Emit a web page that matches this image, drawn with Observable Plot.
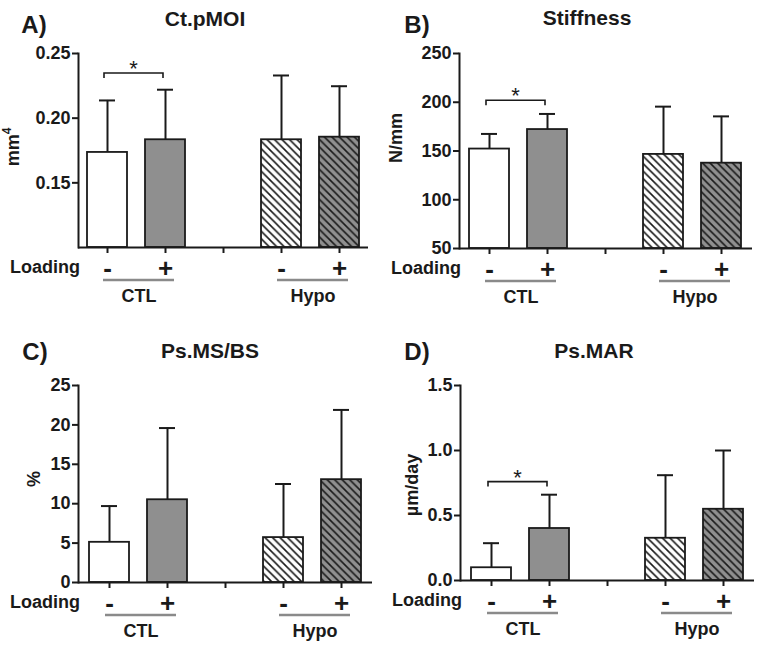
<!DOCTYPE html>
<html><head><meta charset="utf-8">
<script src="https://cdn.jsdelivr.net/npm/d3@7"></script>
<script src="https://cdn.jsdelivr.net/npm/@observablehq/plot@0.6"></script>
<style>
body{margin:0;background:#fff;}
#wrap{position:relative;width:764px;height:650px;font-family:"Liberation Sans",Arial,sans-serif;}
#wrap svg.plotpanel{position:absolute;overflow:visible;}
</style></head><body>
<svg width="0" height="0" style="position:absolute">
  <defs>
    <pattern id="hatchWhite" patternUnits="userSpaceOnUse" width="7.5" height="7.5">
      <rect width="7.5" height="7.5" fill="#ffffff"/>
      <path d="M0,0L7.5,7.5M-1.5,6L1.5,9M6,-1.5L9,1.5" stroke="#1a1a1a" stroke-width="1.6"/>
    </pattern>
    <pattern id="hatchGray" patternUnits="userSpaceOnUse" width="7.5" height="7.5">
      <rect width="7.5" height="7.5" fill="#8f8f8f"/>
      <path d="M0,0L7.5,7.5M-1.5,6L1.5,9M6,-1.5L9,1.5" stroke="#1a1a1a" stroke-width="1.6"/>
    </pattern>
  </defs>
</svg>
<div id="wrap"></div>
<script>
// ---- data ----
const categories = ["CTL-", "CTL+", "gap", "Hypo-", "Hypo+"];
const barKeys = ["CTL-", "CTL+", "Hypo-", "Hypo+"];
const tickLabels = ["-", "+", "", "-", "+"];
const groupNames = ["CTL", "Hypo"];
const groupMembers = [["CTL-", "CTL+"], ["Hypo-", "Hypo+"]];

const pmoiMean = [0.1735, 0.1833, 0.1833, 0.1853];
const pmoiUpper = [0.2137, 0.2220, 0.2330, 0.2247];
const stiffMean = [152, 172, 146.5, 137.5];
const stiffUpper = [167.5, 188, 195.5, 185.5];
const msbsMean = [5.1, 10.5, 5.7, 13.05];
const msbsUpper = [9.7, 19.6, 12.5, 21.9];
const marMean = [0.098, 0.40, 0.325, 0.548];
const marUpper = [0.287, 0.66, 0.81, 1.0];

const panelLetters = ["A)", "B)", "C)", "D)"];
const panelTitles = ["Ct.pMOI", "Stiffness", "Ps.MS/BS", "Ps.MAR"];
const yTicksA = [0.15, 0.20, 0.25];
const yTicksB = [50, 100, 150, 200, 250];
const yTicksC = [0, 5, 10, 15, 20, 25];
const yTicksD = [0.0, 0.5, 1.0, 1.5];
const sigLevels = [0.2345, 201.5, null, 0.757];
const loadingLabel = "Loading";

// ---- styles ----
const FONT = '"Liberation Sans", Arial, sans-serif';
const INK = "#1a1a1a";
const fillOf = {"CTL-": "#ffffff", "CTL+": "#8f8f8f", "Hypo-": "url(#hatchWhite)", "Hypo+": "url(#hatchGray)"};
const tickLabelOf = Object.fromEntries(categories.map((c, i) => [c, tickLabels[i]]));

const panels = [
  {mean: pmoiMean, upper: pmoiUpper, domain: [0.10, 0.25], ticks: yTicksA, fmt: d3.format(".2f"),
   ylabel: ["mm", "4"], left: 0, top: 0, ml: 78, mr: 14, mt: 53, mb: 78,
   title: [205, 26], letter: [34, 33], yl: [19, 147]},
  {mean: stiffMean, upper: stiffUpper, domain: [50, 250], ticks: yTicksB, fmt: d3.format("d"),
   ylabel: ["N/mm"], left: 382, top: 0, ml: 77, mr: 12, mt: 53, mb: 77,
   title: [205, 25], letter: [35, 33], yl: [20, 138]},
  {mean: msbsMean, upper: msbsUpper, domain: [0, 25], ticks: yTicksC, fmt: d3.format("d"),
   ylabel: ["%"], left: 0, top: 325, ml: 78, mr: 10, mt: 60, mb: 68,
   title: [210, 33], letter: [35, 35], yl: [40, 154]},
  {mean: marMean, upper: marUpper, domain: [0, 1.5], ticks: yTicksD, fmt: d3.format(".1f"),
   ylabel: ["\u00b5m/day"], left: 382, top: 325, ml: 78, mr: 10, mt: 60, mb: 70,
   title: [212, 33], letter: [35, 35], yl: [36, 160]}
];

const wrap = document.getElementById("wrap");

panels.forEach((cfg, pi) => {
  const data = barKeys.map((k, i) => ({key: k, mean: cfg.mean[i], upper: cfg.upper[i]}));
  const y0 = cfg.domain[0];
  const H = 325, W = 382;
  const chart = Plot.plot({
    width: W, height: H,
    marginTop: cfg.mt, marginBottom: cfg.mb, marginLeft: cfg.ml, marginRight: cfg.mr,
    style: {fontFamily: FONT, color: INK, background: "transparent", overflow: "visible"},
    x: {type: "band", domain: categories, paddingInner: 0.31, paddingOuter: 0.155, label: null},
    y: {domain: cfg.domain, label: null},
    color: {type: "identity"},
    marks: [
      Plot.ruleX(data, {x: "key", y1: "mean", y2: "upper", stroke: INK, strokeWidth: 2}),
      Plot.tickY(data, {x: "key", y: "upper", stroke: INK, strokeWidth: 2, insetLeft: 12, insetRight: 12}),
      Plot.barY(data, {x: "key", y1: y0, y2: "mean", fill: d => fillOf[d.key], stroke: INK, strokeWidth: 1.8}),
      Plot.ruleY([y0], {stroke: INK, strokeWidth: 2}),
      Plot.frame({anchor: "left", stroke: INK, strokeWidth: 2}),
      Plot.axisY({ticks: cfg.ticks, tickFormat: cfg.fmt, tickSize: 6, tickPadding: 2,
                  fontSize: 18, fontWeight: "bold", label: null, stroke: INK, strokeWidth: 2, fill: INK}),
      Plot.axisX({tickSize: 6, tickPadding: 5.5, tickFormat: k => tickLabelOf[k],
                  fontSize: 26, fontWeight: "bold", label: null, stroke: INK, strokeWidth: 2, fill: INK})
    ]
  });
  chart.classList.add("plotpanel");
  chart.style.left = cfg.left + "px";
  chart.style.top = cfg.top + "px";
  wrap.appendChild(chart);

  const sx = chart.scale("x"), sy = chart.scale("y");
  const cx = k => sx.apply(k) + sx.bandwidth / 2;
  const fb = H - cfg.mb;  // frame bottom
  const svg = d3.select(chart);
  const g = svg.append("g").attr("font-family", FONT).attr("font-weight", "bold").attr("fill", INK);

  g.append("text").attr("x", cfg.letter[0]).attr("y", cfg.letter[1]).attr("font-size", 24).text(panelLetters[pi]);
  g.append("text").attr("x", cfg.title[0]).attr("y", cfg.title[1]).attr("font-size", 21)
    .attr("text-anchor", "middle").text(panelTitles[pi]);

  const yt = g.append("text").attr("transform", `translate(${cfg.yl[0]},${cfg.yl[1]}) rotate(-90)`)
    .attr("text-anchor", "middle").attr("font-size", 18);
  yt.append("tspan").text(cfg.ylabel[0]);
  if (cfg.ylabel[1]) yt.append("tspan").attr("font-size", 12).attr("dy", -8).text(cfg.ylabel[1]);

  g.append("text").attr("x", cfg.ml + 2).attr("y", fb + 26).attr("font-size", 18)
    .attr("text-anchor", "end").text(loadingLabel);

  groupMembers.forEach((m, gi) => {
    const a = cx(m[0]), b = cx(m[1]);
    svg.append("line").attr("x1", a - 4).attr("x2", b + 9).attr("y1", fb + 33).attr("y2", fb + 33)
      .attr("stroke", "#8a8a8a").attr("stroke-width", 2.7);
    g.append("text").attr("x", (a + b) / 2 + 3).attr("y", fb + 55).attr("font-size", 18)
      .attr("text-anchor", "middle").text(groupNames[gi]);
  });

  const sig = sigLevels[pi];
  if (sig != null) {
    const a = cx("CTL-") - 3, b = cx("CTL+") - 2, yy = sy.apply(sig);
    svg.append("path").attr("d", `M${a},${yy + 5}V${yy}H${b}V${yy + 5}`)
      .attr("fill", "none").attr("stroke", INK).attr("stroke-width", 1.6);
    svg.append("text").attr("x", (a + b) / 2).attr("y", yy + 3).attr("font-size", 22)
      .attr("font-family", FONT).attr("text-anchor", "middle").attr("fill", INK).text("*");
  }
});
</script>
</body></html>
